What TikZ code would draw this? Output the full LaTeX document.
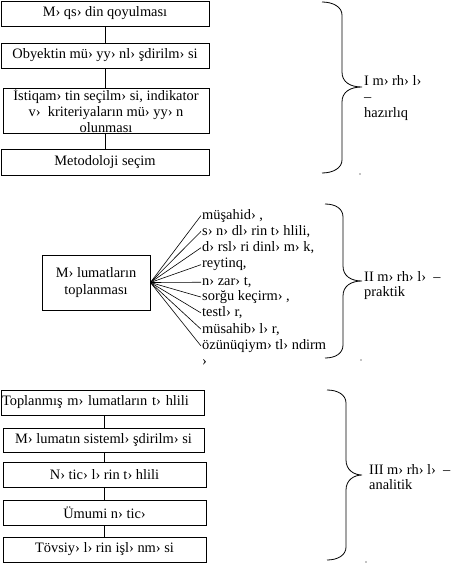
\documentclass[tikz,border=0pt]{standalone}
\usepackage{fontspec}
\setmainfont{Liberation Serif}
\newcommand\fsz{\fontsize{14.4}{16.3}\selectfont}
\newcommand\fszb{\fontsize{14.4}{15}\selectfont}
\newcommand\mybrace[6]{%
  \draw[bracestroke] (#1,#4) .. controls (#1+11,#4) and (#2,#4+5) .. (#2,#4+13)
    -- (#2,#5-15) .. controls (#2,#5-5) and (#2+8,#5) .. (#3,#5)
    .. controls (#2+8,#5) and (#2,#5+5) .. (#2,#5+15)
    -- (#2,#6-13) .. controls (#2,#6-5) and (#1+11,#6) .. (#1,#6);}
\begin{document}
\begin{tikzpicture}[x=1pt,y=-1pt,
  box/.style={draw,line width=0.8pt,inner sep=0pt,align=center,font=\fsz},
  item/.style={anchor=base west,inner sep=1pt,font=\fsz},
  lab/.style={anchor=west,inner sep=0pt,align=left},
  conn/.style={line width=0.8pt},
  fan/.style={line width=0.6pt},
  bracestroke/.style={line width=0.8pt}]
\useasboundingbox (0,0) rectangle (471,564);
% top group
\node[box,minimum width=208pt,minimum height=25pt] (b1) at (105,13.5) {M› qs› din qoyulması};
\node[box,minimum width=208pt,minimum height=25pt] (b2) at (105,55.5) {Obyektin mü› yy› nl› şdirilm› si};
\node[box,minimum width=206pt,minimum height=45pt] (b3) at (106,110.5) {İstiqam› tin seçilm› si, indikator\\v›\ \ kriteriyaların mü› yy› n\\olunması};
\node[box,minimum width=208pt,minimum height=26pt] (b4) at (105,162) {Metodoloji seçim};
\draw[conn] (b1.south) -- (b1.south |- b2.north);
\draw[conn] (b2.south) -- (b2.south |- b3.north);
\draw[conn] (b2.south |- b3.south) -- (b2.south |- b4.north);
% middle group
\node[box,minimum width=108pt,minimum height=55pt] (m) at (96,282.5) {M› lumatların\\toplanması};
\node[item] (i1) at (201,219) {müşahid› ,};
\node[item] (i2) at (201,235.3) {s› n› dl› rin t› hlili,};
\node[item] (i3) at (201,251.6) {d› rsl› ri dinl› m› k,};
\node[item] (i4) at (201,267.9) {reytinq,};
\node[item] (i5) at (201,285.2) {n› zar› t,};
\node[item] (i6) at (201,300.5) {sorğu keçirm› ,};
\node[item] (i7) at (201,316.8) {testl› r,};
\node[item] (i8) at (201,333.1) {müsahib› l› r,};
\node[item] (i9) at (201,349.4) {özünüqiym› tl› ndirm};
\node[item] (i10) at (201,365.7) {›};
\foreach \k in {1,...,9} {\draw[fan] (m.east) -- (i\k.west);}
% bottom group
\node[box,minimum width=203pt,minimum height=25pt,text width=201pt,align=left] (c1) at (102.5,402.5) {Toplanmış m› lumatların t› hlili};
\node[box,minimum width=201pt,minimum height=24pt] (c2) at (103.5,440) {M› lumatın sisteml› şdirilm› si};
\node[box,minimum width=203pt,minimum height=25pt] (c3) at (104.5,474.5) {N› tic› l› rin t› hlili};
\node[box,minimum width=203pt,minimum height=25pt] (c4) at (104.5,512.5) {Ümumi n› tic›};
\node[box,minimum width=203pt,minimum height=25pt] (c5) at (104.5,549.5) {Tövsiy› l› rin işl› nm› si};
\draw[conn] (c2.north -| 104,0) -- (c1.south -| 104,0);
\draw[conn] (c2.south -| 104,0) -- (c3.north -| 104,0);
\draw[conn] (c3.south -| 104,0) -- (c4.north -| 104,0);
\draw[conn] (c4.south -| 104,0) -- (c5.north -| 104,0);
% braces
\mybrace{322}{342}{362}{2}{87}{173}
\mybrace{325}{343}{362}{204}{281}{358}
\mybrace{327}{346}{362}{390}{475}{560}
\node[lab,font=\fsz] (l1) at (364,98) {I m› rh› l›\\–\\hazırlıq};
\node[lab,font=\fszb] (l2) at (364,286) {II m› rh› l›\ \ –\\praktik};
\node[lab,font=\fszb] (l3) at (369,477) {III m› rh› l›\ \ –\\analitik};
\fill (360,174) circle (0.6pt);
\fill (361,360) circle (0.6pt);
\fill (366,562) circle (0.6pt);
\end{tikzpicture}
\end{document}
